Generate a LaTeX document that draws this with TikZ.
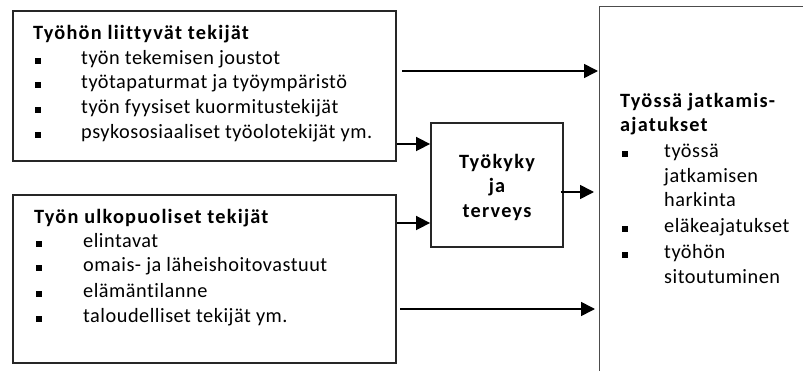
\documentclass[tikz,border=0pt]{standalone}
\usepackage{fontspec}
\setmainfont{Carlito}
\newfontfamily\regf{Carlito}[LetterSpace=2.5,Ligatures={NoCommon,NoRare,NoContextual}]
\newfontfamily\boldf{Carlito}[LetterSpace=6,Ligatures={NoCommon,NoRare,NoContextual}]
\usetikzlibrary{arrows.meta}
\begin{document}
\begin{tikzpicture}[x=1pt,y=-1pt,
  box/.style={draw=black!85,line width=1.8pt,inner sep=0pt},
  txt/.style={anchor=mid west,inner sep=0pt,font=\regf\fontsize{20.3}{24}\selectfont},
  ttl/.style={anchor=mid west,inner sep=0pt,font=\boldf\fontsize{20.3}{24}\selectfont\bfseries},
  ctr/.style={align=center,inner sep=0pt,font=\boldf\fontsize{20.3}{24.5}\selectfont\bfseries},
  bul/.style={fill=black,minimum size=5.5pt,inner sep=0pt},
  arr/.style={line width=1.6pt,-{Triangle[length=14pt,width=14pt]}}]
\useasboundingbox (0,0) rectangle (803,371);
\clip (0,0) rectangle (803,371);
% boxes
\node[box,minimum width=383pt,minimum height=150pt] (A) at (204.5,86) {};
\node[box,minimum width=383pt,minimum height=168pt] (B) at (204.5,279) {};
\node[box,minimum width=132pt,minimum height=124pt] (C) at (497,185) {};
\node[draw=black!70,line width=1.4pt,inner sep=0pt,minimum width=260pt,minimum height=420pt,anchor=north west] (D) at (599,6) {};
% box A text
\node[ttl] (a0) at (33,37) {Työhön liittyvät tekijät};
\node[bul] (ab1) at (38,61) {};
\node[bul] (ab2) at (38,85) {};
\node[bul] (ab3) at (38,110) {};
\node[bul] (ab4) at (38,135) {};
\node[txt] (a1) at (81,62) {työn tekemisen joustot};
\node[txt] (a2) at (81,86) {työtapaturmat ja työympäristö};
\node[txt] (a3) at (81,111) {työn fyysiset kuormitustekijät};
\node[txt] (a4) at (81,136) {psykososiaaliset työolotekijät ym.};
% box B text
\node[ttl] (b0) at (34,221) {Työn ulkopuoliset tekijät};
\node[bul] (bb1) at (39,244) {};
\node[bul] (bb2) at (39,268) {};
\node[bul] (bb3) at (39,294) {};
\node[bul] (bb4) at (39,319) {};
\node[txt] (b1) at (83,245) {elintavat};
\node[txt] (b2) at (83,269) {omais- ja läheishoitovastuut};
\node[txt] (b3) at (83,295) {elämäntilanne};
\node[txt] (b4) at (83,320) {taloudelliset tekijät ym.};
% box C text
\node[ctr] (c0) at (497,187) {Työkyky\\ja\\terveys};
% box D text
\node[ttl] (d0) at (620,105) {Työssä jatkamis-};
\node[ttl] (d1) at (620,129) {ajatukset};
\node[bul] (db1) at (625,154) {};
\node[bul] (db2) at (625,229) {};
\node[bul] (db3) at (625,255) {};
\node[txt] (d2) at (664,155) {työssä};
\node[txt] (d3) at (664,180) {jatkamisen};
\node[txt] (d4) at (664,204) {harkinta};
\node[txt] (d5) at (664,230) {eläkeajatukset};
\node[txt] (d6) at (664,256) {työhön};
\node[txt] (d7) at (664,281) {sitoutuminen};
% connectors
\coordinate (s1) at (402,71);
\coordinate (s5) at (400,309);
\coordinate (y2) at (0,144);
\coordinate (y3) at (0,223);
\coordinate (y4) at (0,192);
\draw[arr,shorten >=1pt] (s1) -- (D.west |- s1);
\draw[arr] (A.east |- y2) -- (C.west |- y2);
\draw[arr] (B.east |- y3) -- (C.west |- y3);
\draw[arr,shorten >=5pt] ([xshift=-3pt]C.east |- y4) -- (D.west |- y4);
\draw[arr,shorten >=4pt] (s5) -- (D.west |- s5);
\end{tikzpicture}
\end{document}
